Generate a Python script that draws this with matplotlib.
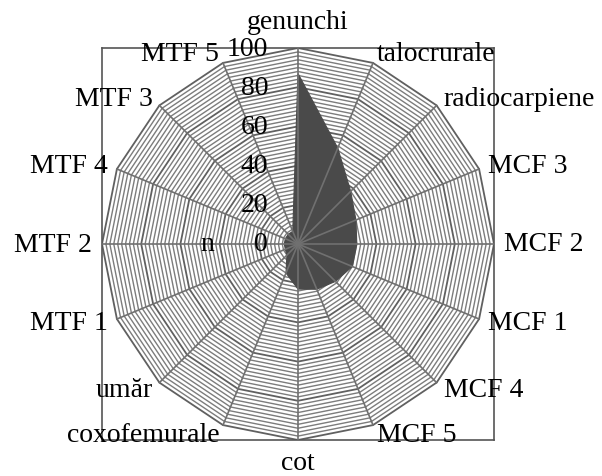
import numpy as np
import matplotlib
matplotlib.use("Agg")
import matplotlib.pyplot as plt
import matplotlib.patheffects as pe

categories = ["genunchi", "talocrurale", "radiocarpiene", "MCF 3", "MCF 2", "MCF 1",
              "MCF 4", "MCF 5", "cot", "coxofemurale", "umăr", "MTF 1", "MTF 2",
              "MTF 4", "MTF 3", "MTF 5"]
values = [87, 53, 38, 32, 30, 30, 27, 25, 23, 16, 8, 7, 7, 7, 7, 7]
tick_values = [0, 20, 40, 60, 80, 100]
series_name = "n"

plt.rcParams['font.family'] = ['Liberation Serif', 'DejaVu Serif']

W, H = 602, 477
fig = plt.figure(figsize=(W / 100, H / 100), dpi=100)
cx, cy, R = 298, 245, 196
ax = fig.add_axes([(cx - R) / W, (H - cy - R) / H, 2 * R / W, 2 * R / H])
ax.set_xlim(-100, 100)
ax.set_ylim(-100, 100)
ax.set_xticks([])
ax.set_yticks([])

n = len(categories)
theta = np.arange(n) * 2 * np.pi / n
sx, sy = np.sin(theta), np.cos(theta)
sxc, syc = np.append(sx, sx[0]), np.append(sy, sy[0])

# minor / major rings
for r in range(2, 101, 2):
    major = (r % 20 == 0)
    ax.plot(r * sxc, r * syc, color='#606060' if major else '#7c7c7c',
            lw=1.3 if major else 1.0, zorder=1)

# data polygon
v = np.array(values, dtype=float)
ax.fill(v * sx, v * sy, color='#4a4a4a', lw=0.8, zorder=2)

# spokes
for i in range(n):
    ax.plot([0, 100 * sx[i]], [0, 100 * sy[i]], color='#707070', lw=1.2, zorder=3)

# radial tick labels
for t in tick_values:
    ax.text(-15.3, t, str(t), ha='right', va='center', fontsize=20, zorder=5)

# category labels
for i, lab in enumerate(categories):
    x, y = 105 * sx[i], 105 * sy[i]
    if abs(sx[i]) < 1e-6:
        ax.text(x, y + (2 if sy[i] > 0 else 0), lab, ha='center',
                va='bottom' if sy[i] > 0 else 'top', fontsize=20, clip_on=False)
    else:
        ax.text(x, y, lab, ha='left' if sx[i] > 0 else 'right', va='center',
                fontsize=20, clip_on=False)

ax.text(-46.5, 0, series_name, ha='center', va='center', fontsize=20, zorder=5)

for sp in ax.spines.values():
    sp.set_color('#555555')
    sp.set_linewidth(1.2)
    sp.set_path_effects([pe.SimplePatchShadow(offset=(2.5, -2.5), shadow_rgbFace='#777777', alpha=0.55), pe.Normal()])

fig.savefig("out.png", dpi=100)
